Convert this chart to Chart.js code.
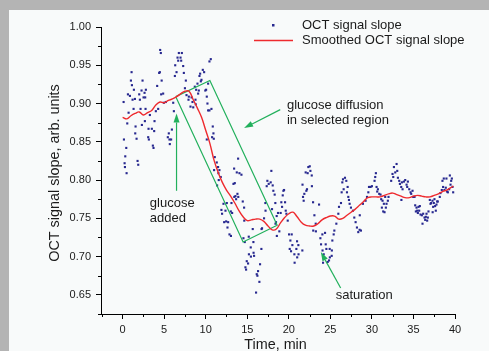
<!DOCTYPE html>
<html>
<head>
<meta charset="utf-8">
<script src="https://cdn.jsdelivr.net/npm/chart.js@4.4.1/dist/chart.umd.min.js"></script>
<style>
  html, body { margin: 0; padding: 0; background: #b4b4b4; width: 489px; height: 351px; overflow: hidden; }
  #panel { position: absolute; left: 9px; top: 10px; width: 480px; height: 341px; background: #f8fafa; }
  canvas { display: block; }
</style>
</head>
<body>
<div id="panel"><canvas id="chart" width="480" height="341"></canvas></div>
<script>
// raw OCT signal slope, [time min, slope]
const baselinePts = [
  [0.12,.902],[0.16,.853],[0.24,.822],[0.28,.817],[0.32,.831],[0.44,.842],[0.48,.809],[0.56,.874],[0.64,.912],[0.72,.888],
  [0.88,.910],[1.00,.930],[1.08,.941],[1.12,.924],[1.20,.905],[1.32,.893],[1.36,.918],[1.48,.906],[1.52,.861],[1.56,.870],
  [1.68,.854],[1.80,.825],[1.88,.820],[2.00,.912],[2.08,.905],[2.16,.893],[2.28,.917],[2.32,.872],[2.40,.930],[2.52,.908],
  [2.64,.914],[2.68,.877],[2.72,.908],[2.76,.893],[2.80,.918],[3.08,.856],[3.12,.867],[3.16,.853],[3.28,.885],[3.52,.867],
  [3.64,.845],[3.72,.842],[3.80,.864],[3.84,.877],[4.00,.890],[4.16,.923],[4.28,.893],[4.40,.940],[4.48,.941],[4.52,.970],
  [4.60,.966],[4.64,.912],[4.70,.930],[4.88,.913],[4.96,.901],[5.20,.902],[5.44,.856],[5.56,.861],[5.64,.853],[5.68,.847],
  [5.84,.853],[5.93,.866],[6.09,.901],[6.17,.890],[6.29,.936],[6.33,.950],[6.49,.941],[6.61,.960],[6.69,.956],[6.77,.966],
  [6.97,.960],[7.05,.956],[7.13,.966],[7.29,.949],[7.37,.940],[7.50,.920],[7.61,.930],[7.69,.911],[7.93,.905],[7.97,.909],
  [8.17,.896],[8.30,.908],[8.41,.902],[8.50,.895]
];
const diffusionPts = [
  [8.69,.922],[8.77,.905],[8.80,.899],[8.85,.918],[9.01,.926],[9.09,.913],[9.17,.917],[9.25,.936],[9.33,.939],[9.41,.929],
  [9.49,.931],[9.65,.944],[9.81,.941],[9.95,.917],[10.05,.918],[10.13,.909],[10.13,.853],[10.21,.900],[10.29,.926],[10.29,.891],
  [10.45,.955],[10.45,.891],[10.61,.958],[10.69,.893],[10.77,.856],[10.85,.870],[10.93,.861],[10.97,.854],[11.01,.813],[11.09,.830],
  [11.33,.823],[11.37,.793],[11.49,.817],[11.53,.809],[11.57,.800],[11.65,.813],[11.81,.804],[11.89,.761],[11.97,.756],[12.14,.769],
  [12.22,.745],[12.38,.760],[12.46,.746],[12.54,.770],[12.62,.738],[12.70,.745],[12.86,.729],[13.02,.759],[13.04,.727],[13.10,.770],
  [13.18,.757],[13.34,.795],[13.42,.815],[13.44,.778],[13.50,.796],[13.58,.779],[13.66,.775],[13.74,.810],[13.82,.782],[13.90,.828],
  [13.92,.778],[14.06,.809],[14.30,.807],[14.46,.772],[14.54,.724],[14.62,.764],[14.64,.747],[14.70,.719],[14.78,.686],[14.86,.683],
  [14.94,.694],[15.10,.691],[15.18,.726],[15.20,.703],[15.42,.712],[15.44,.700],[15.66,.736],[15.74,.719],[15.76,.705],[15.82,.701],
  [16.06,.653],[16.14,.677],[16.22,.675],[16.30,.681],[16.46,.667],[16.54,.690],[16.70,.710],[16.72,.736],[16.78,.737],[17.02,.750],
  [17.18,.770],[17.20,.760],[17.34,.792],[17.42,.799],[17.58,.795],[17.82,.797],[17.90,.812],[17.98,.762],[18.06,.793],[18.14,.786],
  [18.30,.781],[18.38,.770],[18.40,.743],[18.46,.745],[18.54,.753],[18.56,.727],[18.70,.757],[18.86,.733],[19.02,.757],[19.10,.771],
  [19.19,.765],[19.27,.780],[19.35,.786],[19.43,.787]
];
const plateauPts = [
  [19.55,.771],[19.63,.760],[19.71,.756],[19.87,.747],[20.03,.729],[20.11,.710],[20.19,.721],[20.27,.707],[20.35,.729],[20.43,.715],
  [20.67,.703],[20.70,.692],[20.91,.710],[20.99,.720],[21.01,.699],[21.15,.715],[21.17,.703],[21.63,.708],[21.65,.794],[21.71,.778],
  [21.79,.773],[21.87,.782],[22.03,.810],[22.11,.786],[22.19,.788],[22.27,.809],[22.35,.817],[22.52,.818],[22.60,.812],[22.76,.806],
  [22.78,.792],[22.92,.771],[22.94,.734],[23.08,.754],[23.24,.743],[23.26,.733],[23.64,.768],[23.80,.724],[23.88,.716],[24.04,.729],
  [24.06,.708],[24.12,.692],[24.20,.703],[24.36,.731],[24.44,.716],[24.52,.710],[24.68,.693],[24.84,.695],[24.92,.710],[24.94,.699],
  [25.16,.701],[25.18,.708],[25.24,.721],[25.40,.729],[25.48,.734],[25.72,.743],[25.96,.756],[26.04,.765],[26.28,.770],[26.36,.784],
  [26.44,.797],[26.52,.801],[26.60,.788],[26.76,.803],[26.92,.799],[27.00,.784],[27.08,.791],[27.16,.778],[27.24,.774],[27.32,.769],
  [27.48,.764],[27.72,.760],[27.88,.751],[28.04,.745],[28.20,.738],[28.36,.732],[28.52,.735],[28.54,.754],[28.68,.734],[28.92,.769],
  [29.24,.773],[29.41,.778],[29.57,.784],[29.65,.791]
];
const latePts = [
  [29.84,.791],[30.00,.792],[30.32,.799],[30.40,.804],[30.48,.809],[30.56,.791],[30.64,.785],[30.72,.788],[30.88,.782],[31.04,.781],
  [31.12,.775],[31.20,.764],[31.28,.773],[31.36,.759],[31.44,.769],[31.52,.758],[31.60,.778],[31.68,.764],[31.76,.769],[31.92,.773],
  [32.00,.778],[32.32,.799],[32.48,.808],[32.57,.804],[32.65,.817],[32.81,.810],[32.97,.821],[33.05,.812],[33.13,.803],[33.29,.799],
  [33.37,.795],[33.53,.791],[33.55,.774],[33.61,.797],[33.69,.788],[33.85,.798],[34.01,.800],[34.17,.794],[34.25,.791],[34.33,.798],
  [34.49,.788],[34.65,.784],[34.73,.782],[34.89,.786],[34.97,.778],[35.13,.778],[35.21,.767],[35.29,.759],[35.37,.764],[35.45,.760],
  [35.53,.757],[35.61,.765],[35.69,.760],[35.77,.766],[35.85,.755],[36.01,.754],[36.09,.743],[36.17,.756],[36.33,.751],[36.41,.748],
  [36.49,.752],[36.57,.756],[36.65,.747],[36.73,.751],[36.81,.759],[36.97,.774],[37.05,.769],[37.13,.770],[37.29,.773],[37.31,.758],
  [37.37,.765],[37.45,.770],[37.53,.775],[37.61,.766],[37.69,.760],[37.77,.768],[37.85,.772],[37.93,.772],[38.17,.778],[38.25,.783],
  [38.41,.787],[38.49,.799],[38.57,.791],[38.65,.802],[38.73,.787],[38.89,.790],[38.97,.802],[39.05,.785],[39.14,.784],[39.30,.788],
  [39.38,.806],[39.46,.794],[39.54,.799],[39.62,.802],[39.70,.791],[39.78,.784]
];

// smoothed curve
const smoothT = [0,0.5,1,1.5,2,2.5,3,3.5,4,4.5,5,5.5,6,6.5,7,7.5,8,8.5,9,9.5,10,10.5,11,11.5,12,12.5,13,13.5,14,14.5,
  15,15.5,16,16.5,17,17.5,18,18.5,19,19.5,20,20.5,21,21.5,22,22.5,23,23.5,24,24.5,25,25.5,26,26.5,27,27.5,28,28.5,29,29.5,
  30,30.5,31,31.5,32,32.5,33,33.5,34,34.5,35,35.5,36,36.5,37,37.5,38,38.5,39,39.5,39.8];
const smoothS = [.882,.880,.884,.887,.889,.885,.888,.891,.898,.902,.901,.904,.906,.909,.913,.916,.916,.905,.894,.882,
  .865,.848,.826,.810,.797,.787,.779,.770,.760,.752,.747,.748,.749,.749,.746,.740,.735,.736,.744,.751,
  .756,.758,.752,.745,.741,.740,.740,.743,.748,.751,.753,.753,.749,.750,.754,.758,.762,.767,.772,.777,
  .778,.778,.778,.780,.782,.783,.781,.779,.777,.777,.779,.780,.779,.778,.778,.780,.782,.785,.787,.790,.792];

// selected region outline
const boxT = [6.4, 10.5, 18.6, 14.5, 6.4];
const boxS = [0.909, 0.930, 0.741, 0.719, 0.909];

// arrows and notes
const arrowFrom = [[6.49, 0.786], [18.97, 0.892], [26.24, 0.659]];
const arrowTo = [[6.49, 0.887], [14.62, 0.868], [23.85, 0.706]];
const noteAt = [[3.28, 0.770], [19.78, 0.898], [25.64, 0.649]];
const noteLines = [['glucose', 'added'], ['glucose diffusion', 'in selected region'], ['saturation']];

const xTicks = [-2.5,0,2.5,5,7.5,10,12.5,15,17.5,20,22.5,25,27.5,30,32.5,35,37.5,40];
const yTicks = [0.625,0.65,0.675,0.7,0.725,0.75,0.775,0.8,0.825,0.85,0.875,0.9,0.925,0.95,0.975,1.0];

const FONT = '"Liberation Sans", Arial, Helvetica, sans-serif';
const BLUE = '#27288f', RED = '#ee2a2e', GREEN = '#22b05c', TXT = '#1a1a1a';

const isMajorX = v => Math.abs(v % 5) < 1e-9;
const isMajorY = v => Math.abs(v * 20 - Math.round(v * 20)) < 1e-6;

const rawData = [...baselinePts, ...diffusionPts, ...plateauPts, ...latePts].map(p => ({x: p[0], y: p[1]}));

const extras = {
  id: 'extras',
  afterDraw(chart) {
    const ctx = chart.ctx;
    const x = chart.scales.x, y = chart.scales.y;
    const area = chart.chartArea;
    ctx.save();

    // minor ticks
    ctx.strokeStyle = '#000';
    ctx.lineWidth = 1;
    xTicks.filter(v => !isMajorX(v)).forEach(v => {
      const px = Math.round(x.getPixelForValue(v)) + 0.5;
      ctx.beginPath(); ctx.moveTo(px, area.bottom); ctx.lineTo(px, area.bottom + 3); ctx.stroke();
    });
    yTicks.filter(v => !isMajorY(v)).forEach(v => {
      const py = Math.round(y.getPixelForValue(v)) + 0.5;
      ctx.beginPath(); ctx.moveTo(area.left, py); ctx.lineTo(area.left - 3, py); ctx.stroke();
    });

    // arrows
    ctx.strokeStyle = GREEN;
    ctx.fillStyle = GREEN;
    ctx.lineWidth = 1.2;
    arrowFrom.forEach((a, i) => {
      const x0 = x.getPixelForValue(a[0]), y0 = y.getPixelForValue(a[1]);
      const x1 = x.getPixelForValue(arrowTo[i][0]), y1 = y.getPixelForValue(arrowTo[i][1]);
      const ang = Math.atan2(y1 - y0, x1 - x0);
      const hl = 9, hw = 3;
      const bx = x1 - hl * Math.cos(ang), by = y1 - hl * Math.sin(ang);
      ctx.beginPath(); ctx.moveTo(x0, y0); ctx.lineTo(bx, by); ctx.stroke();
      ctx.beginPath();
      ctx.moveTo(x1, y1);
      ctx.lineTo(bx + hw * Math.sin(ang), by - hw * Math.cos(ang));
      ctx.lineTo(bx - hw * Math.sin(ang), by + hw * Math.cos(ang));
      ctx.closePath(); ctx.fill();
    });

    // notes
    ctx.fillStyle = TXT;
    ctx.font = '13px ' + FONT;
    ctx.textAlign = 'left';
    ctx.textBaseline = 'middle';
    noteAt.forEach((n, i) => {
      const px = x.getPixelForValue(n[0]), py = y.getPixelForValue(n[1]);
      noteLines[i].forEach((t, j) => ctx.fillText(t, px, py + j * 15));
    });

    // legend
    ctx.fillStyle = BLUE;
    ctx.fillRect(263, 14, 2.5, 2.5);
    ctx.strokeStyle = RED;
    ctx.lineWidth = 1.4;
    ctx.beginPath(); ctx.moveTo(245, 30.5); ctx.lineTo(284, 30.5); ctx.stroke();
    ctx.fillStyle = TXT;
    ctx.fillText('OCT signal slope', 293, 15.7);
    ctx.fillText('Smoothed OCT signal slope', 293, 30.7);

    // axis titles
    ctx.font = '14.4px ' + FONT;
    ctx.textAlign = 'center';
    ctx.fillText('Time, min', 266.5, 335);
    ctx.translate(46, 163);
    ctx.rotate(-Math.PI / 2);
    ctx.fillText('OCT signal slope, arb. units', 0, 0);
    ctx.restore();
  }
};

new Chart(document.getElementById('chart'), {
  type: 'scatter',
  data: {
    datasets: [
      { label: 'Smoothed OCT signal slope', data: smoothT.map((t, i) => ({x: t, y: smoothS[i]})),
        showLine: true, borderColor: RED, borderWidth: 1.4, pointRadius: 0, tension: 0.4, order: 1 },
      { label: 'region', data: boxT.map((t, i) => ({x: t, y: boxS[i]})),
        showLine: true, borderColor: GREEN, borderWidth: 1.2, pointRadius: 0, tension: 0, order: 2 },
      { label: 'OCT signal slope', data: rawData,
        pointStyle: 'rect', pointRadius: 1.5, borderWidth: 0, backgroundColor: BLUE, order: 3 }
    ]
  },
  options: {
    responsive: false,
    animation: false,
    events: [],
    layout: { padding: { left: 0, top: 17, right: 34, bottom: 0 } },
    plugins: { legend: { display: false }, tooltip: { enabled: false } },
    scales: {
      x: {
        type: 'linear', min: -2.6, max: 40,
        afterBuildTicks: s => { s.ticks = xTicks.map(v => ({value: v})); },
        afterFit: s => { s.height = 37; },
        border: { color: '#000', width: 1 },
        grid: { drawOnChartArea: false, tickLength: 5,
          tickColor: c => (c.tick && isMajorX(c.tick.value)) ? '#000' : 'rgba(0,0,0,0)' },
        ticks: { padding: 4, color: TXT, font: { family: FONT, size: 11 }, autoSkip: false, maxRotation: 0,
          callback: v => isMajorX(v) ? String(v) : '' }
      },
      y: {
        type: 'linear', min: 0.625, max: 1.0,
        afterBuildTicks: s => { s.ticks = yTicks.map(v => ({value: v})); },
        afterFit: s => { s.width = 92; },
        border: { color: '#000', width: 1 },
        grid: { drawOnChartArea: false, tickLength: 5,
          tickColor: c => (c.tick && isMajorY(c.tick.value)) ? '#000' : 'rgba(0,0,0,0)' },
        ticks: { padding: 5, color: TXT, font: { family: FONT, size: 11 }, autoSkip: false,
          callback: v => isMajorY(v) ? v.toFixed(2) : '' }
      }
    }
  },
  plugins: [extras]
});
</script>
</body>
</html>
